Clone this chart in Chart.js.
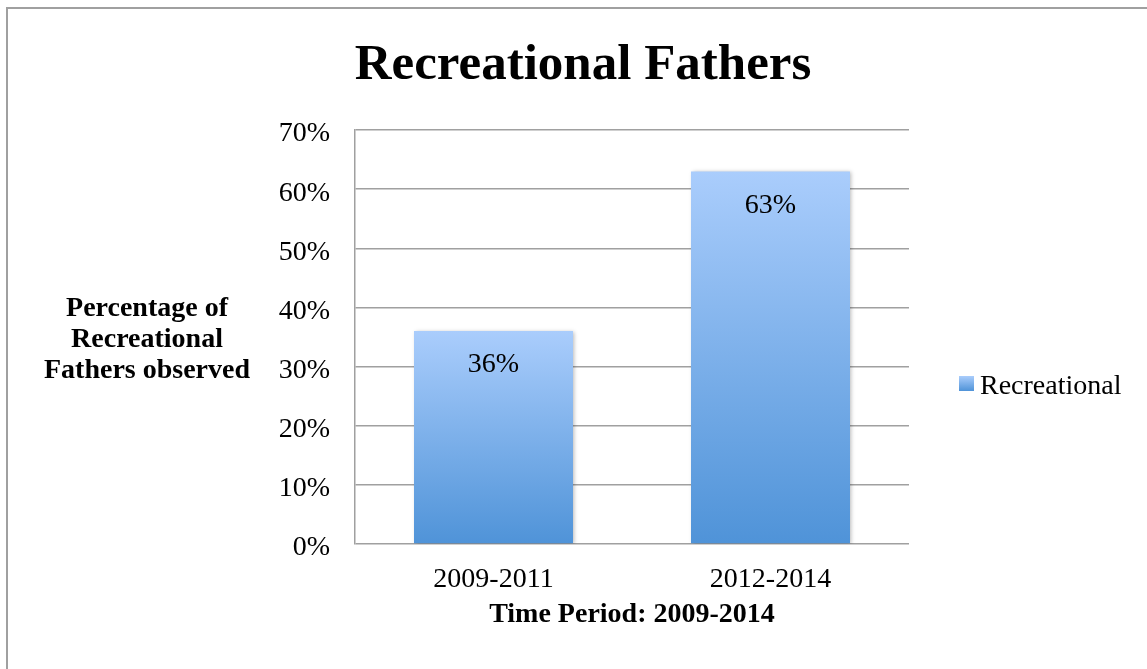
<!DOCTYPE html>
<html>
<head>
<meta charset="utf-8">
<title>Recreational Fathers</title>
<script src="https://cdn.jsdelivr.net/npm/chart.js@4.4.0/dist/chart.umd.min.js"></script>
<style>
  html, body { margin: 0; padding: 0; background: #ffffff; }
  #wrap { position: relative; width: 1147px; height: 669px; }
</style>
</head>
<body>
<div id="wrap"><canvas id="chart" width="1147" height="669"></canvas></div>
<script>
// ---- data ----
const categories = ['2009-2011', '2012-2014'];
const recreational = [36, 63];
const yTicks = [0, 10, 20, 30, 40, 50, 60, 70];
const seriesName = 'Recreational';
const chartTitle = 'Recreational Fathers';
const yTitleLines = ['Percentage of', 'Recreational', 'Fathers observed'];
const xTitle = 'Time Period: 2009-2014';

// ---- styling ----
const FONT = "'Liberation Serif', 'Times New Roman', serif";
const barTop = '#aacdfc';
const barBottom = '#4f93d8';
const gridColor = '#a0a0a0';

function barGradient(c2d, top, bottom) {
  const g = c2d.createLinearGradient(0, top, 0, bottom);
  g.addColorStop(0, barTop);
  g.addColorStop(1, barBottom);
  return g;
}

// outer frame, title, horizontal y-axis caption, value labels and legend
const decorations = {
  id: 'decorations',
  beforeDraw(chart) {
    const c = chart.ctx;
    c.save();
    c.fillStyle = '#ffffff';
    c.fillRect(0, 0, chart.width, chart.height);
    c.strokeStyle = '#a0a0a0';
    c.lineWidth = 2;
    c.beginPath();
    c.moveTo(7, chart.height);
    c.lineTo(7, 8);
    c.lineTo(chart.width, 8);
    c.stroke();
    c.restore();
  },
  beforeDatasetsDraw(chart) {
    const c = chart.ctx;
    c.save();
    c.shadowColor = 'rgba(0,0,0,0.28)';
    c.shadowBlur = 4;
    c.shadowOffsetX = 1.5;
    c.shadowOffsetY = 1;
  },
  afterDatasetsDraw(chart) {
    const c = chart.ctx;
    c.restore();
    const meta = chart.getDatasetMeta(0);
    c.save();
    c.fillStyle = '#000';
    c.font = '28px ' + FONT;
    c.textAlign = 'center';
    c.textBaseline = 'middle';
    meta.data.forEach((bar, i) => {
      c.fillText(recreational[i] + '%', bar.x, bar.y + 34);
    });
    c.restore();
  },
  afterDraw(chart) {
    const c = chart.ctx;
    const area = chart.chartArea;
    c.save();
    c.fillStyle = '#000';
    c.textBaseline = 'middle';

    // chart title
    c.font = 'bold 51px ' + FONT;
    c.textAlign = 'center';
    c.fillText(chartTitle, 583, 66);

    // y-axis caption, written horizontally
    c.font = 'bold 28px ' + FONT;
    yTitleLines.forEach((line, i) => {
      c.fillText(line, 147, 309 + i * 31);
    });

    // legend
    const bx = area.right + 50, by = 376, bs = 15;
    c.fillStyle = barGradient(c, by, by + bs);
    c.fillRect(bx, by, bs, bs);
    c.fillStyle = '#000';
    c.font = '28px ' + FONT;
    c.textAlign = 'left';
    c.fillText(chart.data.datasets[0].label, bx + 21, 387);
    c.restore();
  }
};

Chart.defaults.font.family = FONT;
Chart.defaults.color = '#000';

new Chart(document.getElementById('chart'), {
  type: 'bar',
  data: {
    labels: categories,
    datasets: [{
      label: seriesName,
      data: recreational,
      backgroundColor(ctx) {
        const chart = ctx.chart;
        if (!chart.chartArea || ctx.type !== 'data') return barBottom;
        const y = chart.scales.y;
        return barGradient(chart.ctx, y.getPixelForValue(ctx.raw), y.getPixelForValue(0));
      },
      borderWidth: 0,
      categoryPercentage: 1.0,
      barPercentage: 0.574
    }]
  },
  options: {
    responsive: false,
    animation: false,
    devicePixelRatio: 1,
    layout: { padding: { left: 257, right: 238, top: 130, bottom: 0 } },
    plugins: {
      legend: { display: false },
      title: { display: false },
      tooltip: { enabled: false }
    },
    scales: {
      x: {
        grid: { display: false, drawTicks: false },
        border: { display: false },
        ticks: { font: { size: 28 }, padding: 19, color: '#000' },
        title: {
          display: true,
          text: xTitle,
          font: { size: 28, weight: 'bold' },
          color: '#000',
          padding: { top: 0, bottom: 37 }
        },
        afterFit(scale) { scale.height = 125; }
      },
      y: {
        min: yTicks[0],
        max: yTicks[yTicks.length - 1],
        afterBuildTicks(scale) { scale.ticks = yTicks.map(v => ({ value: v })); },
        grid: { color: gridColor, lineWidth: 1.5, drawTicks: false },
        border: { display: true, color: gridColor, width: 1.5 },
        ticks: {
          font: { size: 28 },
          padding: 25,
          labelOffset: 4,
          color: '#000',
          callback: v => v + '%'
        },
        afterFit(scale) { scale.width = 98; }
      }
    }
  },
  plugins: [decorations]
});
</script>
</body>
</html>
